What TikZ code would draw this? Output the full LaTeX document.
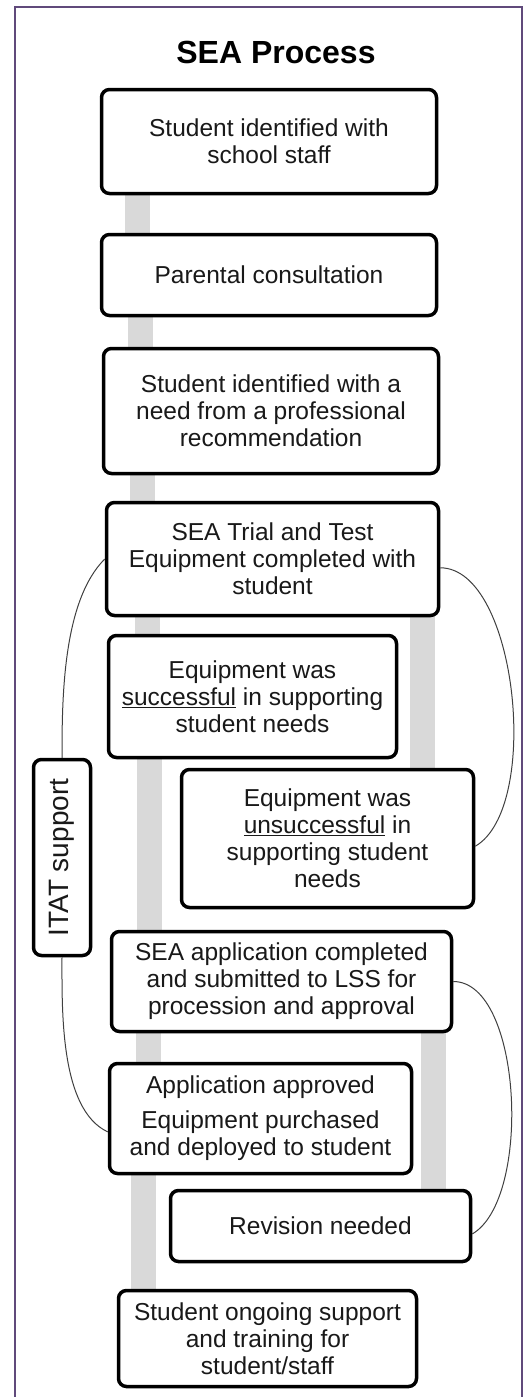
\documentclass[tikz,border=0pt]{standalone}
\usepackage{fontspec}
\setmainfont{Liberation Sans}
\usetikzlibrary{backgrounds}

\definecolor{framepurple}{HTML}{604A7B}
\definecolor{barfill}{HTML}{D9D9D9}
\definecolor{linkgray}{HTML}{404040}

\tikzset{
  stepbox/.style={draw=black, line width=3.5pt, rounded corners=8pt,
    fill=white, align=center, inner sep=0pt, text=black!90,
    font=\fontsize{24.5}{27}\selectfont},
  bar/.style={barfill, line width=25pt},
  link/.style={linkgray, line width=1pt},
}

\begin{document}
\begin{tikzpicture}[x=1pt,y=1pt]
      \useasboundingbox (0,0) rectangle (523,-1397);

      % frame
      \draw[framepurple, line width=2pt]
            (15,-1397) -- (15,-7) -- (522,-7) -- (522,-1397);

      \node[font=\bfseries\fontsize{32}{36}\selectfont] (title)
            at (276,-52) {SEA Process};

      % steps
      \node[stepbox, minimum width=335pt, minimum height=104pt] (s1)
            at (269,-141.5) {Student identified with\\school staff};
      \node[stepbox, minimum width=335pt, minimum height=81pt] (s2)
            at (269,-275) {Parental consultation};
      \node[stepbox, minimum width=335pt, minimum height=125pt] (s3)
            at (271,-411) {Student identified with a\\need from a professional\\recommendation};
      \node[stepbox, minimum width=332pt, minimum height=113pt] (s4)
            at (272.5,-559) {SEA Trial and Test\\Equipment completed with\\student};
      \node[stepbox, minimum width=288pt, minimum height=122pt] (s5)
            at (252.5,-696.5) {Equipment was\\\underline{successful} in supporting\\student needs};
      \node[stepbox, minimum width=292pt, minimum height=138pt] (s7)
            at (327.5,-838.5) {Equipment was\\\underline{unsuccessful} in\\supporting student\\needs};
      \node[stepbox, minimum width=340pt, minimum height=100pt] (s8)
            at (281.5,-981.5) {SEA application completed\\and submitted to LSS for\\procession and approval};
      \node[stepbox, minimum width=302pt, minimum height=110pt] (s9)
            at (260.5,-1118.5) {Application approved\\[8pt]Equipment purchased\\and deployed to student};
      \node[stepbox, minimum width=300pt, minimum height=71pt] (s10)
            at (320.5,-1226) {Revision needed};
      \node[stepbox, minimum width=298pt, minimum height=96pt] (s11)
            at (267.5,-1338.5) {Student ongoing support\\and training for\\student/staff};

      \node[stepbox, minimum width=57pt, minimum height=196pt,
            font=\fontsize{28}{32}\selectfont] (itat)
            at (62,-857.5) {\rotatebox{90}{ITAT support}};

      % grey bars behind the steps
      \begin{scope}[on background layer]
            \draw[bar] (s1.south -| 137,0) -- (s2.north -| 137,0);
            \draw[bar] (s2.south -| 140,0) -- (s3.north -| 140,0);
            \draw[bar] (s3.south -| 142,0) -- (s4.north -| 142,0);
            \draw[bar] (s4.south -| 147,0) -- (s5.north -| 147,0);
            \draw[bar] (s5.south -| 149,0) -- (s8.north -| 149,0);
            \draw[bar] (s8.south -| 148,0) -- (s9.north -| 148,0);
            \draw[bar] (s9.south -| 143,0) -- (s11.north -| 143,0);
            \draw[bar] (s4.south -| 422,0) -- (s7.north -| 422,0);
            \draw[bar] (s8.south -| 433,0) -- (s10.north -| 433,0);
      \end{scope}

      % support loops
      \draw[link] (s4.west) to[out=225,in=90,looseness=0.75] (itat.north);
      \draw[link] (itat.south) to[out=-90,in=155,looseness=0.75] (s9.185);
      \draw[link] (s4.-3) to[out=0,in=30,looseness=0.7] (s7.-3);
      \draw[link] (s8.east) to[out=0,in=30,looseness=0.7] (s10.-3);
\end{tikzpicture}
\end{document}
